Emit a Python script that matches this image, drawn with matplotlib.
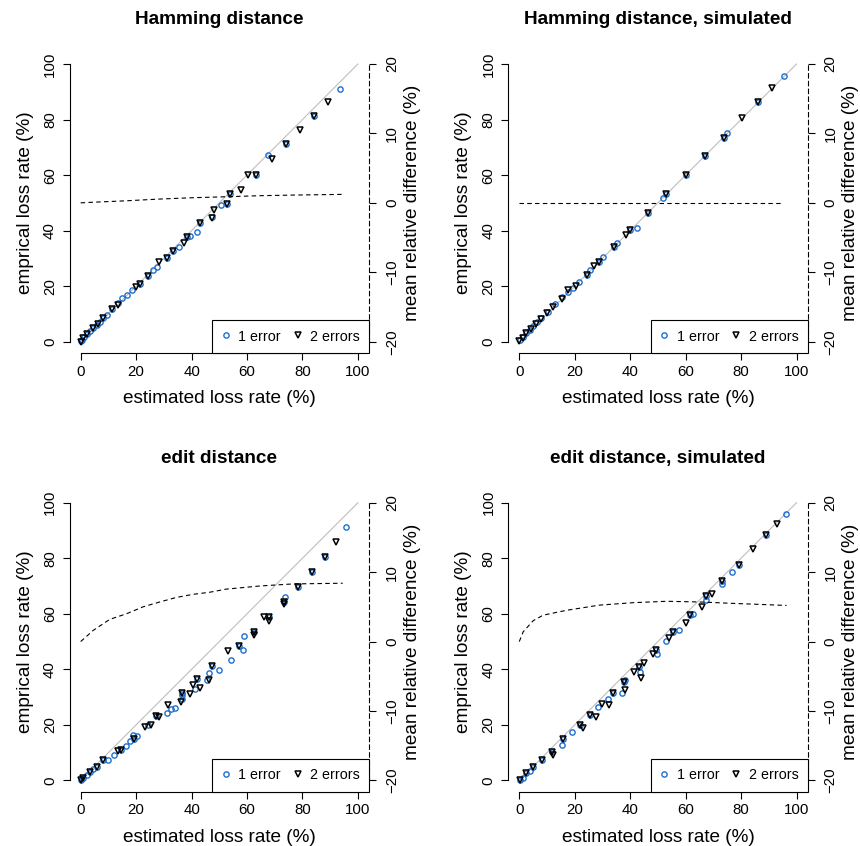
import matplotlib
matplotlib.use("Agg")
import matplotlib.pyplot as plt
from matplotlib.lines import Line2D

plt.rcParams['font.family'] = ['Liberation Sans', 'DejaVu Sans']

BLUE = '#1f6fcf'
GRAY = '#BEBEBE'

titles = ["Hamming distance", "Hamming distance, simulated",
          "edit distance", "edit distance, simulated"]
xlabel = "estimated loss rate (%)"
ylabel_left = "emprical loss rate (%)"
ylabel_right = "mean relative difference (%)"
legend_labels = ["1 error", "2 errors"]
left_ticks = [0, 20, 40, 60, 80, 100]
right_ticks = [-20, -10, 0, 10, 20]

# ---- Hamming distance ----
ham_x1 = [93.5, 84.3, 74.2, 67.6, 63.4, 52.6, 53.8, 50.5, 47.4, 43.0, 42.0, 39.4, 38.2,
          35.4, 33.4, 31.0, 27.4, 26.2, 24.4, 21.4, 18.4, 16.6, 14.8, 13.6, 11.2, 9.5,
          8.2, 7.0, 5.8, 4.6, 3.4, 2.2, 1.2, 0.4, 0.0]
ham_y1 = [91.0, 81.3, 71.1, 67.1, 60.0, 49.5, 53.2, 49.1, 45.0, 42.6, 39.6, 38.2, 37.8,
          34.2, 32.8, 30.0, 27.0, 25.8, 23.8, 20.6, 18.6, 16.8, 15.6, 13.8, 11.8, 9.6,
          8.4, 7.2, 6.0, 5.0, 3.8, 2.8, 1.6, 0.6, 0.2]
ham_x2 = [89.2, 84.3, 79.2, 74.2, 69.0, 63.4, 60.4, 58.0, 53.8, 52.6, 48.1, 47.4, 43.0,
          38.2, 37.2, 33.4, 31.0, 28.2, 24.4, 21.4, 20.0, 13.6, 11.2, 8.2, 6.2, 4.6,
          2.2, 1.0, 0.0]
ham_y2 = [86.2, 81.3, 76.2, 71.1, 65.7, 60.0, 59.9, 54.6, 53.2, 49.5, 47.4, 44.4, 42.6,
          37.8, 35.7, 32.8, 30.0, 28.6, 23.8, 20.6, 19.8, 13.2, 11.6, 8.4, 6.4, 5.0,
          2.8, 1.2, 0.0]
ham_dx = [0.0, 4.0, 16.6, 28.6, 40.6, 52.6, 64.6, 76.6, 94.6]
ham_dy = [0.0, 0.08, 0.30, 0.55, 0.74, 0.88, 1.03, 1.12, 1.22]

# ---- Hamming distance, simulated ----
hsim_x1 = [95.4, 86.2, 74.8, 73.8, 67.1, 60.0, 53.1, 51.9, 46.3, 42.5, 40.1, 35.3, 34.1,
           30.3, 28.6, 25.5, 24.5, 21.5, 19.5, 17.7, 15.3, 12.9, 10.5, 8.0, 6.5, 5.0,
           3.8, 2.6, 1.4, 0.2]
hsim_y1 = [95.7, 86.3, 75.0, 73.2, 67.0, 60.0, 53.1, 51.9, 46.2, 41.0, 40.2, 35.7, 34.0,
           30.4, 28.6, 25.8, 24.0, 21.6, 19.4, 18.0, 16.0, 13.6, 10.8, 8.6, 7.0, 5.6,
           4.3, 3.2, 1.8, 0.6]
hsim_x2 = [91.3, 86.2, 80.3, 73.8, 67.1, 60.0, 53.1, 46.3, 40.1, 38.5, 34.1, 28.6, 27.0,
           24.5, 20.5, 17.7, 15.3, 12.0, 10.0, 8.0, 6.0, 4.2, 2.6, 1.2, 0.0]
hsim_y2 = [91.2, 86.3, 80.4, 73.2, 67.0, 60.0, 53.1, 46.2, 40.2, 38.4, 34.0, 28.6, 27.2,
           24.0, 20.2, 18.6, 15.4, 12.4, 10.2, 8.2, 6.4, 4.6, 3.0, 1.4, 0.2]
hsim_dx = [0.0, 20.0, 40.0, 60.0, 80.0, 94.6]
hsim_dy = [0.05, 0.05, 0.05, 0.05, 0.05, 0.05]

# ---- edit distance ----
edit_x1 = [95.7, 88.0, 83.5, 78.5, 73.7, 73.4, 68.0, 62.5, 58.9, 57.0, 58.4, 54.2, 50.0,
           47.2, 46.3, 45.4, 41.8, 41.2, 36.4, 36.4, 36.7, 34.0, 32.5, 31.3, 27.2, 24.4,
           20.4, 19.0, 19.2, 17.8, 16.3, 14.5, 12.0, 10.0, 8.2, 5.8, 4.5, 3.4, 2.2, 1.0, 0.2]
edit_y1 = [91.1, 80.3, 75.1, 69.7, 66.1, 64.3, 58.9, 53.5, 52.0, 48.4, 46.9, 43.5, 39.9,
           41.2, 38.7, 36.3, 36.4, 32.8, 31.6, 30.6, 29.4, 26.2, 25.6, 24.3, 23.1, 19.8,
           15.9, 16.2, 15.0, 14.2, 12.3, 11.1, 9.0, 7.5, 7.5, 5.0, 4.0, 3.0, 2.0, 1.0, 0.2]
edit_x2 = [92.2, 88.0, 83.5, 78.5, 73.4, 73.4, 68.0, 66.1, 68.0, 62.5, 62.5, 57.0, 53.0,
           47.2, 46.2, 41.8, 40.6, 43.0, 39.4, 36.4, 36.1, 31.6, 28.4, 27.2, 25.2, 23.2,
           19.2, 14.5, 13.3, 8.2, 5.8, 3.4, 1.0, 0.0]
edit_y2 = [85.7, 80.3, 75.1, 69.7, 64.3, 63.5, 58.9, 58.7, 57.3, 53.5, 52.3, 48.4, 46.5,
           41.2, 36.1, 36.4, 34.3, 33.4, 31.0, 31.6, 28.2, 27.0, 22.8, 23.1, 20.1, 19.2,
           15.0, 11.1, 10.6, 7.5, 5.0, 3.0, 1.0, 0.0]
edit_dx = [0.0, 4.5, 10.5, 16.5, 22.5, 28.5, 34.5, 40.5, 46.5, 52.5, 64.5, 76.5, 94.5]
edit_dy = [0.0, 1.6, 3.2, 4.0, 5.0, 5.7, 6.35, 6.8, 7.1, 7.55, 8.0, 8.3, 8.4]

# ---- edit distance, simulated ----
esim_x1 = [96.2, 88.9, 79.1, 76.8, 73.3, 73.3, 67.5, 67.5, 61.5, 62.7, 57.6, 55.5, 52.9,
           49.3, 49.5, 43.3, 43.5, 37.9, 38.3, 37.0, 33.9, 32.1, 28.5, 25.5, 21.9, 18.9,
           15.9, 15.3, 11.7, 8.1, 5.0, 3.8, 2.6, 1.2, 0.2]
esim_y1 = [95.9, 88.3, 77.5, 75.1, 71.9, 70.7, 66.3, 64.9, 59.7, 59.9, 54.3, 53.5, 50.1,
           47.1, 45.4, 40.9, 39.1, 35.5, 36.1, 31.5, 31.6, 29.4, 26.4, 23.4, 19.8, 17.4,
           15.0, 12.6, 10.2, 7.2, 4.8, 3.4, 2.6, 1.0, 0.2]
esim_x2 = [93.0, 88.9, 84.4, 79.1, 73.3, 69.4, 67.5, 66.0, 61.5, 60.1, 55.5, 54.1, 49.3,
           48.1, 45.0, 43.3, 41.3, 43.8, 37.9, 38.1, 33.9, 32.5, 29.7, 25.5, 27.6, 21.9,
           23.1, 15.9, 11.7, 12.3, 8.1, 5.0, 2.6, 0.2]
esim_y2 = [92.5, 88.3, 83.5, 77.5, 71.9, 67.1, 66.3, 62.5, 59.7, 56.7, 53.5, 51.3, 47.1,
           45.4, 42.1, 40.9, 39.1, 37.0, 35.5, 32.5, 31.6, 27.3, 27.6, 23.4, 22.8, 19.8,
           18.9, 15.0, 10.2, 9.0, 7.2, 4.8, 2.6, 0.2]
esim_dx = [0.0, 1.4, 5.0, 8.6, 17.0, 29.0, 41.1, 53.1, 65.1, 77.1, 96.4]
esim_dy = [0.0, 1.4, 3.0, 3.8, 4.5, 5.25, 5.6, 5.8, 5.7, 5.5, 5.2]

panels = [
    (ham_x1, ham_y1, ham_x2, ham_y2, ham_dx, ham_dy),
    (hsim_x1, hsim_y1, hsim_x2, hsim_y2, hsim_dx, hsim_dy),
    (edit_x1, edit_y1, edit_x2, edit_y2, edit_dx, edit_dy),
    (esim_x1, esim_y1, esim_x2, esim_y2, esim_dx, esim_dy),
]

W, H = 860, 846
fig = plt.figure(figsize=(W / 100, H / 100), dpi=100)

# plot-region boxes in pixels: (left, top, width, height)
lefts = [69.6, 508.2]
tops = [52.9, 491.6]
pw, ph = 299.4, 299.9

TICK_FS = 10.8
LAB_FS = 13.7
LW = 0.8
DASH = (0, (4, 3))

CIRC = dict(ls='none', marker='o', ms=3.8, mfc='none', mec=BLUE, mew=1.0)
TRI = dict(ls='none', marker='v', ms=4.9, mfc='none', mec='black', mew=1.1)

for k, (x1, y1, x2, y2, dx, dy) in enumerate(panels):
    col, row = k % 2, k // 2
    l, t = lefts[col], tops[row]
    ax = fig.add_axes([l / W, 1 - (t + ph) / H, pw / W, ph / H])
    ax.set_xlim(-4, 104)
    ax.set_ylim(-4, 104)

    ax.plot([0, 100], [0, 100], color=GRAY, lw=LW, zorder=1)
    ax.plot(x1, y1, zorder=2, **CIRC)
    ax.plot(x2, y2, zorder=3, **TRI)

    for s in ['top', 'right']:
        ax.spines[s].set_visible(False)
    ax.spines['left'].set_bounds(0, 100)
    ax.spines['bottom'].set_bounds(0, 100)
    ax.spines['left'].set_linewidth(LW)
    ax.spines['bottom'].set_linewidth(LW)
    ax.set_xticks(left_ticks)
    ax.set_yticks(left_ticks)
    ax.tick_params(length=5, width=LW, labelsize=TICK_FS, direction='out')
    ax.tick_params(axis='x', pad=3.5)
    ax.tick_params(axis='y', pad=4, labelrotation=90)
    for lab in ax.get_yticklabels():
        lab.set_va('center')

    ax2 = ax.twinx()
    ax2.set_ylim(-21.6, 21.6)
    ax2.plot(dx, dy, ls=DASH, color='black', lw=LW, zorder=2)
    for s in ['top', 'left', 'bottom']:
        ax2.spines[s].set_visible(False)
    ax2.spines['right'].set_bounds(-20, 20)
    ax2.spines['right'].set_linestyle(DASH)
    ax2.spines['right'].set_linewidth(LW)
    ax2.set_yticks(right_ticks)
    ax2.tick_params(length=5, width=LW, labelsize=TICK_FS, direction='out', pad=6.5,
                    labelrotation=90)
    for lab in ax2.get_yticklabels():
        lab.set_va('center')

    ax.text(0.5, 1.11, titles[k], transform=ax.transAxes, ha='center', va='center',
            fontsize=LAB_FS, fontweight='bold')
    ax.text(0.5, -0.154, xlabel, transform=ax.transAxes, ha='center', va='center',
            fontsize=LAB_FS)
    ax.text(-0.148, 0.5, ylabel_left, transform=ax.transAxes, ha='center', va='center',
            rotation=90, fontsize=LAB_FS)
    ax.text(1.144, 0.5, ylabel_right, transform=ax.transAxes, ha='center', va='center',
            rotation=90, fontsize=LAB_FS)

    handles = [Line2D([], [], **CIRC), Line2D([], [], **TRI)]
    leg = ax2.legend(handles, legend_labels, loc='lower right', bbox_to_anchor=(1, 0),
                     bbox_transform=ax.transAxes, borderaxespad=0, ncol=2,
                     fontsize=10.3, frameon=True, fancybox=False, framealpha=1,
                     edgecolor='black', handlelength=0.6, handletextpad=0.55,
                     columnspacing=0.9, borderpad=0.65)
    leg.get_frame().set_linewidth(LW)
    leg.set_zorder(10)

fig.savefig("out.png", dpi=100)
